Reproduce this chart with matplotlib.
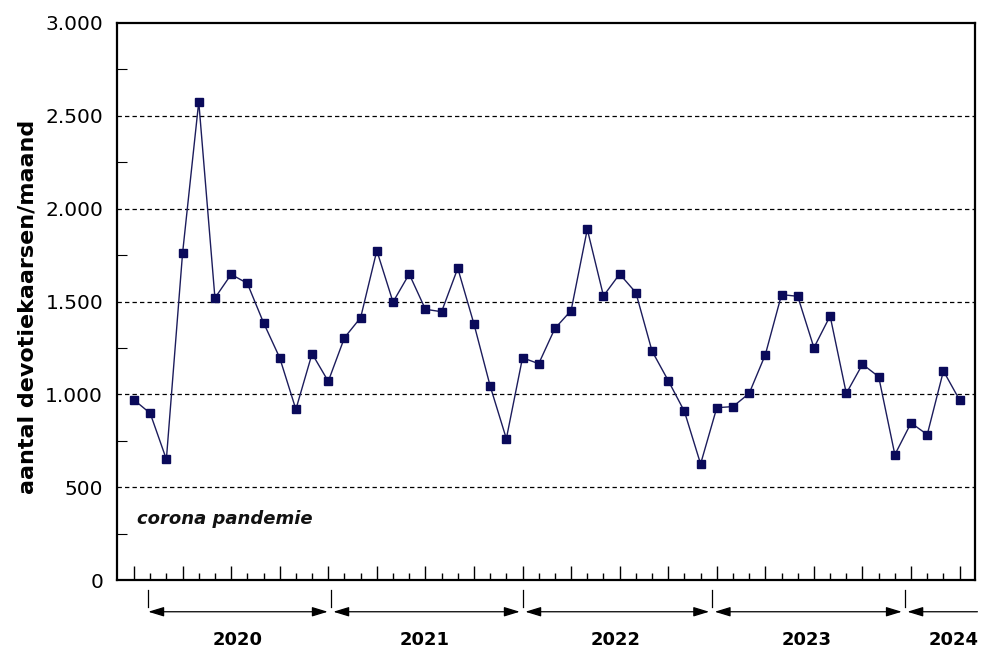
import matplotlib
matplotlib.use("Agg")
import matplotlib.pyplot as plt
from matplotlib.ticker import FixedLocator, MultipleLocator, FuncFormatter
import matplotlib.transforms as mtransforms
import numpy as np

plt.rcParams['font.family'] = ['DejaVu Sans']

# monthly counts (index 0 = first month shown)
values = [970, 898, 650, 1760, 2576, 1519, 1646, 1598, 1386, 1197, 919, 1219,
          1070, 1305, 1413, 1774, 1497, 1648, 1458, 1445, 1679, 1379, 1045, 761,
          1197, 1165, 1355, 1451, 1889, 1530, 1648, 1548, 1233, 1074, 908, 625,
          928, 934, 1005, 1214, 1537, 1528, 1251, 1422, 1005, 1162, 1095, 675,
          846, 783, 1126, 969]
year_labels = ['2020', '2021', '2022', '2023', '2024']
year_bounds = [0.88, 12.14, 24.0, 35.7, 47.6, 52.1]
y_ticks = [0, 500, 1000, 1500, 2000, 2500, 3000]

fig = plt.figure(figsize=(9.81, 6.5), dpi=100)
ax = fig.add_axes([117/981, 1-580/650, (975-117)/981, (580-23)/650])

x = np.arange(len(values))
ax.plot(x, values, color='#1c1c5c', lw=1.0, marker='s', ms=5.5,
        mfc='#0a0a5a', mec='#0a0a5a', zorder=3)

ax.set_xlim(-1.05, 51.95)
ax.set_ylim(0, 3000)

for yv in y_ticks[1:-1]:
    ax.axhline(yv, color='black', lw=0.9, ls=(0, (3.5, 2.5)), zorder=1)

ax.yaxis.set_major_locator(FixedLocator(y_ticks))
ax.yaxis.set_minor_locator(MultipleLocator(250))
ax.yaxis.set_major_formatter(FuncFormatter(lambda v, p: f"{int(v):,}".replace(',', '.')))
ax.tick_params(axis='y', which='both', direction='in', length=7, width=0.8,
               labelsize=14.5, pad=10)
ax.tick_params(axis='y', which='major', length=0)

ax.xaxis.set_major_locator(FixedLocator(np.arange(0, len(values), 3)))
ax.xaxis.set_minor_locator(FixedLocator(np.arange(0, len(values), 1)))
ax.tick_params(axis='x', which='major', direction='in', length=10, width=1.0,
               labelbottom=False)
ax.tick_params(axis='x', which='minor', direction='in', length=5, width=1.0)

for s in ax.spines.values():
    s.set_linewidth(1.6)

ax.set_ylabel('aantal devotiekaarsen/maand', fontsize=16, fontweight='bold',
              labelpad=14)
ax.yaxis.set_label_coords(-0.093, 0.49)

ax.text(0.2, 330, 'corona pandemie', fontsize=13, style='italic',
        fontweight='bold', va='center', ha='left', color='#111111')

# year arrows below the axis
trans = mtransforms.blended_transform_factory(ax.transData, ax.transAxes)
y_arr = -0.057
gap = 0.17
for i, lab in enumerate(year_labels):
    x0 = year_bounds[i]
    x1 = year_bounds[i + 1]
    ax.plot([x0, x0], [-0.018, -0.048], color='black', lw=0.9,
            transform=trans, clip_on=False)
    last = (i == len(year_labels) - 1)
    style = '-|>' if last else '<|-|>'
    xs = x0 + (gap if i > 0 else 0)
    xe = x1 if last else x1 - gap
    ax.annotate('', xy=(xs, y_arr), xytext=(xe, y_arr), xycoords=trans,
                textcoords=trans,
                arrowprops=dict(arrowstyle=style + ',head_length=0.95,head_width=0.29',
                                color='black', lw=0.9, mutation_scale=10,
                                shrinkA=0, shrinkB=0),
                annotation_clip=False)
    if last:
        ax.text(x1 + 0.05, -0.108, lab, transform=trans, ha='right', va='center',
                fontsize=13, fontweight='bold', clip_on=False)
    else:
        ax.text((x0 + x1) / 2 - 0.1, -0.108, lab, transform=trans, ha='center',
                va='center', fontsize=13, fontweight='bold', clip_on=False)

fig.savefig('out.png', dpi=100)
